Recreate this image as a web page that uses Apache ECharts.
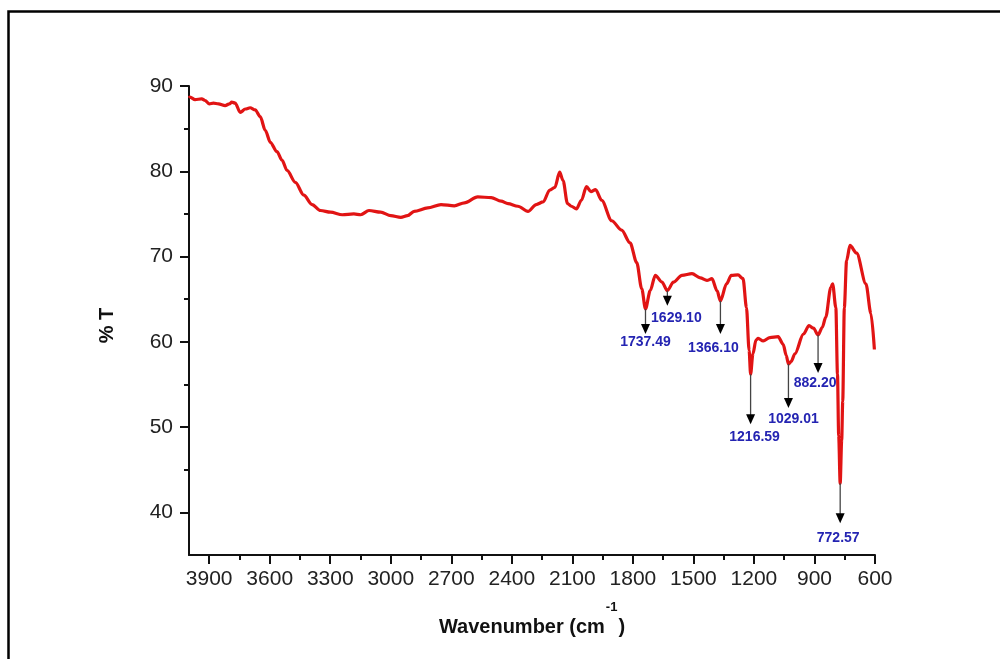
<!DOCTYPE html>
<html>
<head>
<meta charset="utf-8">
<title>FTIR spectrum</title>
<script src="https://cdn.jsdelivr.net/npm/echarts@6/dist/echarts.min.js"></script>
<style>
  html, body { margin: 0; padding: 0; background: #fff; }
  #chart { width: 1000px; height: 659px; }
</style>
</head>
<body>
<div id="chart"></div>
<script>
// Spectrum: wavenumber (cm^-1) and transmittance (%T)
const wavenumbers = [
  4000, 3995, 3970, 3937, 3920, 3899, 3879, 3854, 3821, 3800, 3788, 3771, 3746, 3721, 3697, 3672,
  3647, 3622, 3597, 3564, 3539, 3514, 3473, 3431, 3390, 3348, 3299, 3240, 3183, 3149, 3108, 3050,
  3000, 2950, 2917, 2884, 2817, 2751, 2685, 2635, 2569, 2502, 2453, 2419, 2370, 2320, 2279, 2245,
  2212, 2187, 2163, 2146, 2124, 2105, 2080, 2055, 2030, 2008, 1985, 1955, 1905, 1856, 1814, 1781,
  1756, 1737.49, 1714, 1689, 1656, 1629.10, 1599, 1557, 1507, 1466, 1433, 1408, 1383, 1366.10, 1336, 1312,
  1279, 1254, 1237, 1224, 1216.59, 1205, 1190, 1179, 1154, 1121, 1080, 1055, 1040, 1029.01, 1015, 997,
  955, 927, 905, 882.20, 861, 844, 819, 810, 794, 786, 780, 772.57, 765, 760, 752, 741,
  724, 691, 645, 620, 603
];
const transmittance = [
  88.6, 88.7, 88.4, 88.5, 88.3, 87.9, 88.0, 87.9, 87.7, 87.9, 88.1, 88.0, 86.9, 87.3, 87.45, 87.2,
  86.4, 84.8, 83.4, 82.3, 81.3, 80.1, 78.7, 77.2, 76.1, 75.4, 75.2, 74.9, 75.0, 74.9, 75.4, 75.2,
  74.8, 74.6, 74.8, 75.3, 75.7, 76.1, 75.95, 76.3, 77.0, 76.9, 76.5, 76.2, 75.9, 75.3, 76.1, 76.4,
  77.8, 78.1, 79.9, 78.9, 76.2, 75.9, 75.6, 76.6, 78.2, 77.6, 77.85, 76.6, 74.2, 73.1, 71.6, 69.3,
  66.2, 63.85, 66.0, 67.8, 67.0, 66.0, 67.0, 67.8, 68.0, 67.5, 67.2, 67.4, 66.0, 64.8, 66.8, 67.8,
  67.85, 67.4, 64.0, 59.0, 56.2, 58.6, 60.2, 60.4, 60.1, 60.5, 60.6, 59.7, 58.4, 57.4, 57.7, 58.6,
  60.9, 61.9, 61.6, 60.8, 61.7, 62.9, 66.4, 66.8, 64.0, 56.2, 49.0, 43.4, 48.5, 53.0, 64.0, 69.5,
  71.3, 70.4, 66.8, 63.3, 59.1
];

// Marked absorption bands (cm^-1)
const peakWavenumbers = [1737.49, 1629.10, 1366.10, 1216.59, 1029.01, 882.20, 772.57];

// Axis ticks
const xTickValues = [3900, 3600, 3300, 3000, 2700, 2400, 2100, 1800, 1500, 1200, 900, 600];
const xMinorTickValues = [3750, 3450, 3150, 2850, 2550, 2250, 1950, 1650, 1350, 1050, 750];
const yTickValues = [40, 50, 60, 70, 80, 90];
const yMinorTickValues = [45, 55, 65, 75, 85];

const spectrum = wavenumbers.map((w, i) => [w, transmittance[i]]);
const peaks = peakWavenumbers.map(w => [w, transmittance[wavenumbers.indexOf(w)]]);

// Arrow/label layout for each marked band (pixels)
const arrowLen = [25, 15, 33, 50, 44, 38, 40];
const labelDx = [0, 9, -7, 4, 5, -3, -2];
const labelDy = [8, 12, 14, 13, 11, 10, 15];

const FONT = "'Liberation Sans', Arial, sans-serif";
const AXIS_COLOR = '#111';
const plain = v => String(v);

const chart = echarts.init(document.getElementById('chart'), null, { renderer: 'canvas' });

chart.setOption({
  backgroundColor: '#fff',
  animation: false,
  grid: { left: 189, right: 125, top: 86, bottom: 104 },
  graphic: [{
    type: 'rect',
    left: 6, top: 9,
    shape: { width: 1200, height: 1000 },
    style: { fill: 'none', stroke: '#000', lineWidth: 2.5 },
    silent: true
  }],
  xAxis: [{
    type: 'value',
    min: 600, max: 4000,
    inverse: true,
    name: '{t|Wavenumber (cm}{s|-1}{t|)}',
    nameLocation: 'middle',
    nameGap: 46,
    nameTextStyle: {
      rich: {
        t: { fontFamily: FONT, fontSize: 20, fontWeight: 'bold', color: '#111', lineHeight: 26, verticalAlign: 'bottom' },
        s: { fontFamily: FONT, fontSize: 13, fontWeight: 'bold', color: '#111', lineHeight: 36, verticalAlign: 'top', padding: [0, 1, 0, 1] }
      }
    },
    axisLine: { show: true, lineStyle: { color: AXIS_COLOR, width: 2 } },
    axisTick: { show: true, inside: false, length: 9, customValues: xTickValues, lineStyle: { color: AXIS_COLOR, width: 2 } },
    axisLabel: { show: true, customValues: xTickValues, formatter: plain, margin: 14, fontFamily: FONT, fontSize: 21, color: '#222' },
    splitLine: { show: false }
  }, {
    type: 'value',
    min: 600, max: 4000,
    inverse: true,
    position: 'bottom',
    axisLine: { show: false },
    axisTick: { show: true, inside: false, length: 5, customValues: xMinorTickValues, lineStyle: { color: AXIS_COLOR, width: 2 } },
    axisLabel: { show: false },
    splitLine: { show: false }
  }],
  yAxis: [{
    type: 'value',
    min: 35, max: 90,
    name: '% T',
    nameLocation: 'middle',
    nameRotate: 90,
    nameGap: 72,
    nameTextStyle: { fontFamily: FONT, fontSize: 20, fontWeight: 'bold', color: '#111', padding: [0, 10, 0, 0] },
    axisLine: { show: true, lineStyle: { color: AXIS_COLOR, width: 2 } },
    axisTick: { show: true, inside: false, length: 9, customValues: yTickValues, lineStyle: { color: AXIS_COLOR, width: 2 } },
    axisLabel: { show: true, customValues: yTickValues, formatter: plain, margin: 16, fontFamily: FONT, fontSize: 21, color: '#222' },
    splitLine: { show: false }
  }, {
    type: 'value',
    min: 35, max: 90,
    position: 'left',
    axisLine: { show: false },
    axisTick: { show: true, inside: false, length: 5, customValues: yMinorTickValues, lineStyle: { color: AXIS_COLOR, width: 2 } },
    axisLabel: { show: false },
    splitLine: { show: false }
  }],
  series: [{
    type: 'line',
    name: '%T',
    xAxisIndex: 0, yAxisIndex: 0,
    data: spectrum,
    showSymbol: false,
    smooth: 0.3,
    smoothMonotone: 'x',
    lineStyle: { color: '#e11414', width: 3.2 },
    z: 2
  }, {
    type: 'custom',
    name: 'bands',
    xAxisIndex: 0, yAxisIndex: 0,
    data: peaks,
    encode: { x: 0, y: 1 },
    clip: false,
    z: 3,
    renderItem(params, api) {
      const i = params.dataIndex;
      const w = api.value(0);
      const p = api.coord([w, api.value(1)]);
      const tipY = p[1] + arrowLen[i];
      const headH = 10, headW = 4.5;
      return {
        type: 'group',
        children: [{
          type: 'line',
          shape: { x1: p[0], y1: p[1], x2: p[0], y2: tipY - headH + 1 },
          style: { stroke: '#444', lineWidth: 1.3 }
        }, {
          type: 'polygon',
          shape: { points: [[p[0] - headW, tipY - headH], [p[0] + headW, tipY - headH], [p[0], tipY]] },
          style: { fill: '#000' }
        }, {
          type: 'text',
          x: p[0] + labelDx[i],
          y: tipY + labelDy[i],
          style: {
            text: w.toFixed(2),
            align: 'center',
            verticalAlign: 'middle',
            fill: '#2424b2',
            font: "bold 14px 'Liberation Sans', Arial, sans-serif"
          }
        }]
      };
    }
  }]
});
</script>
</body>
</html>
